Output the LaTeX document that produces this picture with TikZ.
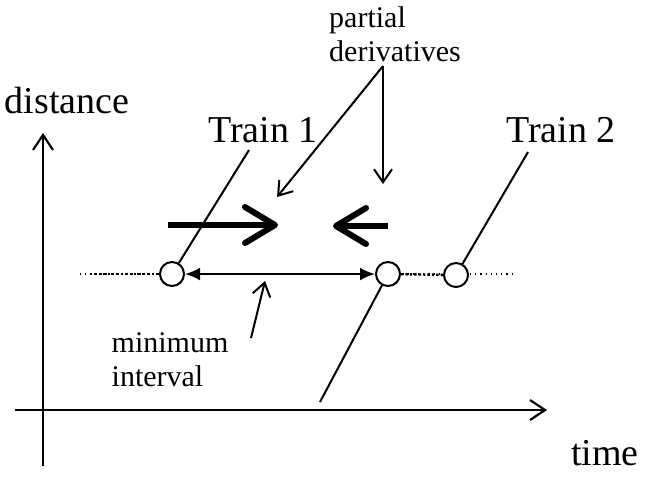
\documentclass[tikz,border=0pt]{standalone}
\usepackage{fontspec}
\setmainfont{Liberation Serif}
\usetikzlibrary{arrows.meta}

\tikzset{
  big/.style={font=\fontsize{19}{22}\selectfont, inner sep=0pt},
  small/.style={font=\fontsize{15}{17}\selectfont, inner sep=0pt, align=left},
  train/.style={circle, draw, fill=white, line width=1pt, minimum size=12pt, inner sep=0pt},
  axis/.style={line width=1.1pt, -{Straight Barb[length=7.5pt,width=10pt]}},
  pointer/.style={line width=1pt, -{Straight Barb[length=6.5pt,width=9pt]}},
  push/.style={line width=3pt, -{Straight Barb[length=15pt,width=18pt,round]}}
}

\begin{document}
\begin{tikzpicture}[x=0.5pt, y=-0.5pt]
\useasboundingbox (0,0) rectangle (656,479);

% axes
\coordinate (y0) at (43,466);
\coordinate (y1) at (43,133);
\coordinate (x0) at (15,410);
\coordinate (x1) at (547,410);
\draw[axis] (y0) -- (y1);
\draw[axis] (x0) -- (x1);
\node[big] (dist) at (67,100) {distance};
\node[big] (time) at (605,453) {time};

% track with the three trains on it
\coordinate (l0) at (80,274);
\coordinate (l1) at (90,274);
\coordinate (l2) at (512,274);
\draw[line width=0.6pt, dotted] (l0) -- (l2);
\node[train] (c1) at (172,274) {};
\node[train] (c2) at (388,274) {};
\node[train] (c3) at (456,275) {};
\draw[line width=1.2pt, densely dotted] (l1) -- (c1);
\draw[line width=1.2pt, densely dotted] (c2) -- (c3);

% paths of the trains
\coordinate (t1) at (249,150);
\coordinate (t2) at (528,152);
\coordinate (t3) at (320,402);
\draw[line width=1pt] (c1) -- (t1);
\draw[line width=1pt] (c3) -- (t2);
\draw[line width=1pt] (c2) -- (t3);
\node[big] (tr1) at (263,130) {Train 1};
\node[big] (tr2) at (561,130) {Train 2};

% gap between the trains
\draw[line width=1.1pt, {Latex[length=7.5pt,width=6.5pt]}-{Latex[length=7.5pt,width=6.5pt]}] (c1) -- (c2);

% thick arrows
\coordinate (a0) at (168,225);
\coordinate (a1) at (278,225);
\coordinate (b0) at (388,226);
\coordinate (b1) at (333,226);
\draw[push] (a0) -- (a1);
\draw[push] (b0) -- (b1);

% labels with pointers
\node[small] (pd) at (395,34) {partial\\derivatives};
\coordinate (p) at (383,66);
\coordinate (pa) at (277,197);
\coordinate (pb) at (383,184);
\draw[pointer] (p) -- (pa);
\draw[pointer] (p) -- (pb);

\node[small] (mi) at (170,360) {minimum\\interval};
\coordinate (m0) at (251,338);
\coordinate (m1) at (265,281);
\draw[pointer] (m0) -- (m1);
\end{tikzpicture}
\end{document}
